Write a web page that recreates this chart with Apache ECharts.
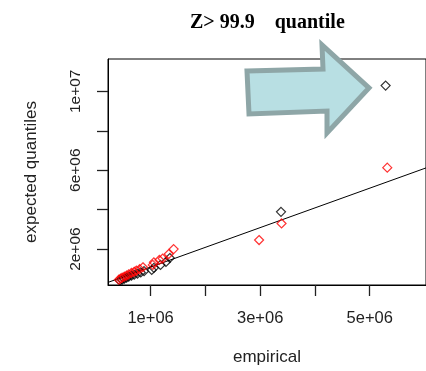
<!DOCTYPE html>
<html>
<head>
<meta charset="utf-8">
<script src="https://cdn.jsdelivr.net/npm/echarts@6/dist/echarts.min.js"></script>
<style>html,body{margin:0;padding:0;background:#fff}#c{width:426px;height:371px}</style>
</head>
<body>
<div id="c"></div>
<script>
// Data (values in units of 1)
const TITLE = "Z> 99.9    quantile";
const X_NAME = "empirical";
const Y_NAME = "expected quantiles";
const X_TICKS = [1e6, 2e6, 3e6, 4e6, 5e6];
const X_LABELS = [1e6, 3e6, 5e6];
const Y_TICKS = [2e6, 4e6, 6e6, 8e6, 10e6];
const Y_LABELS = [2e6, 6e6, 10e6];
// black series: [empirical, expected]
const BLACK_EMP = [0.44e6, 0.48e6, 0.52e6, 0.56e6, 0.60e6, 0.65e6, 0.70e6, 0.76e6, 0.82e6, 0.88e6, 1.02e6, 1.06e6, 1.18e6, 1.28e6, 1.35e6, 3.38e6, 5.29e6];
const BLACK_EXP = [0.40e6, 0.45e6, 0.50e6, 0.55e6, 0.60e6, 0.66e6, 0.70e6, 0.76e6, 0.82e6, 0.88e6, 0.94e6, 1.05e6, 1.20e6, 1.35e6, 1.55e6, 3.89e6, 10.29e6];
// red series
const RED_EMP = [0.42e6, 0.45e6, 0.48e6, 0.52e6, 0.56e6, 0.60e6, 0.65e6, 0.70e6, 0.74e6, 0.80e6, 0.86e6, 1.04e6, 1.06e6, 1.16e6, 1.22e6, 1.33e6, 1.42e6, 2.98e6, 3.39e6, 5.32e6];
const RED_EXP = [0.45e6, 0.50e6, 0.55e6, 0.60e6, 0.66e6, 0.72e6, 0.79e6, 0.85e6, 0.91e6, 0.98e6, 1.08e6, 1.20e6, 1.33e6, 1.45e6, 1.52e6, 1.75e6, 2.00e6, 2.46e6, 3.30e6, 6.13e6];
// reference line y = a + b x
const LINE_INTERCEPT = 0.09e6;
const LINE_SLOPE = 1.0;
const X_RANGE = [0.222e6, 6.027e6];
const Y_RANGE = [0.18e6, 11.64e6];

function rfmt(v) {
  const e = Math.floor(Math.log10(v) + 1e-9);
  const m = Math.round(v / Math.pow(10, e));
  return m + "e+" + String(e).padStart(2, "0");
}

const chart = echarts.init(document.getElementById('c'), null, {renderer: 'canvas'});
const lineData = X_RANGE.map(x => [x, LINE_INTERCEPT + LINE_SLOPE * x]);
const sans = "'Liberation Sans', Arial, sans-serif";

chart.setOption({
  animation: false,
  backgroundColor: '#fff',
  title: {
    text: TITLE, left: 185, top: 8,
    textStyle: {fontFamily: "'Liberation Serif', 'Times New Roman', serif", fontWeight: 'bold', fontSize: 20, color: '#000'}
  },
  grid: {left: 108, top: 59, width: 321, height: 227, show: true, borderColor: '#000', borderWidth: 1, backgroundColor: 'transparent'},
  xAxis: {
    type: 'value', min: X_RANGE[0], max: X_RANGE[1],
    name: X_NAME, nameLocation: 'middle', nameGap: 64,
    nameTextStyle: {fontFamily: sans, fontSize: 17, color: '#222'},
    axisLine: {show: true, lineStyle: {color: '#000', width: 1}},
    axisTick: {show: true, length: 11, inside: false, customValues: X_TICKS, lineStyle: {color: '#222', width: 1.3}},
    axisLabel: {show: true, customValues: X_LABELS, margin: 25, formatter: rfmt, fontFamily: sans, fontSize: 16.5, color: '#222'},
    splitLine: {show: false}
  },
  yAxis: {
    type: 'value', min: Y_RANGE[0], max: Y_RANGE[1],
    name: Y_NAME, nameLocation: 'middle', nameGap: 68, nameRotate: 90,
    nameTextStyle: {fontFamily: sans, fontSize: 17, color: '#222'},
    axisLine: {show: true, lineStyle: {color: '#000', width: 1}},
    axisTick: {show: true, length: 11, inside: false, customValues: Y_TICKS, lineStyle: {color: '#222', width: 1.3}},
    axisLabel: {show: true, customValues: Y_LABELS, rotate: 90, margin: 24, formatter: rfmt, fontFamily: sans, fontSize: 15.5, color: '#222'},
    splitLine: {show: false}
  },
  series: [
    {
      type: 'line', data: lineData, symbol: 'none', clip: true,
      lineStyle: {color: '#000', width: 1}, z: 2
    },
    {
      type: 'scatter', data: BLACK_EMP.map((x, i) => [x, BLACK_EXP[i]]),
      symbol: 'diamond', symbolSize: 9,
      itemStyle: {color: 'rgba(0,0,0,0)', borderColor: '#000', borderWidth: 1.2}, z: 3
    },
    {
      type: 'scatter', data: RED_EMP.map((x, i) => [x, RED_EXP[i]]),
      symbol: 'diamond', symbolSize: 9,
      itemStyle: {color: 'rgba(0,0,0,0)', borderColor: '#ff0000', borderWidth: 1.2}, z: 4
    }
  ],
  graphic: [{
    type: 'polygon', z: 100,
    shape: {points: [[247, 71], [323, 69], [322, 45], [369, 88], [327, 133], [327, 111], [249, 114]]},
    style: {fill: '#b8dfe3', stroke: '#8ea6a7', lineWidth: 5, lineJoin: 'miter'}
  }]
});
</script>
</body>
</html>
